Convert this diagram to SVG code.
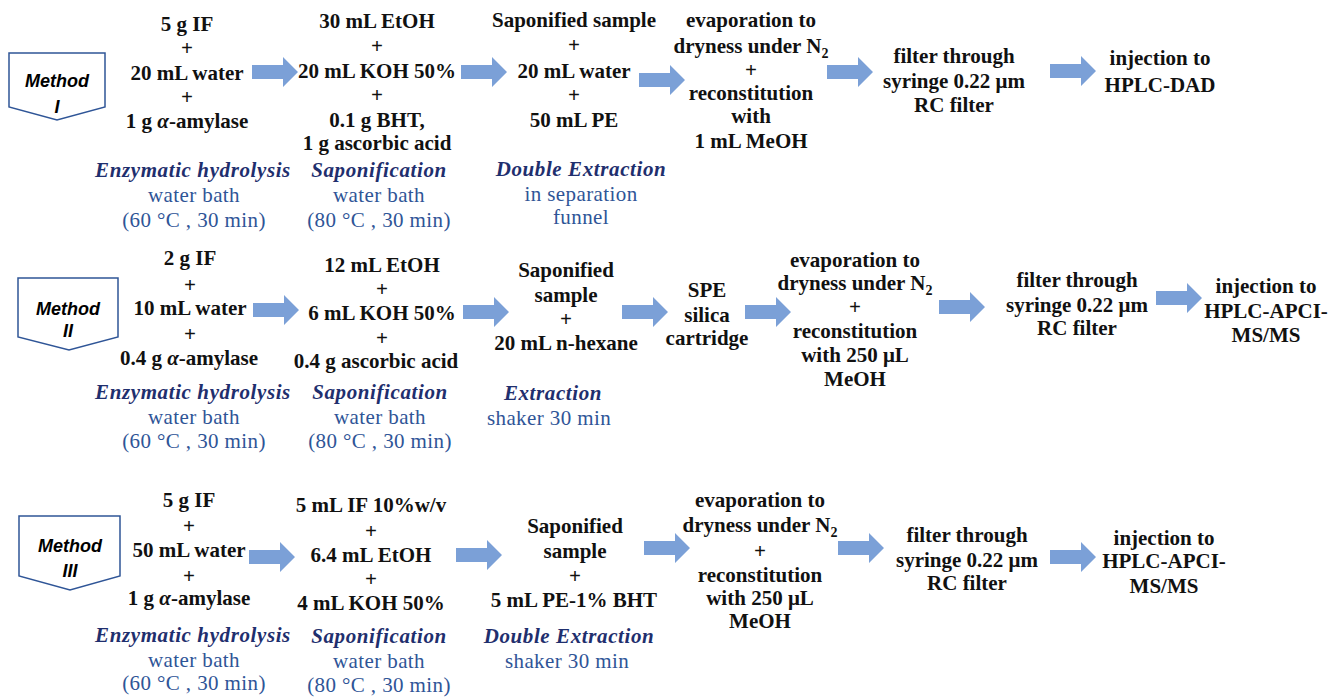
<svg xmlns="http://www.w3.org/2000/svg" xmlns:xlink="http://www.w3.org/1999/xlink" width="1341" height="698" viewBox="0 0 1341 698">
<style>
text{font-family:"Liberation Serif","DejaVu Serif",serif;text-anchor:middle;font-size:21px}
.b{font-weight:bold;fill:#111}
.h{font-style:italic;font-weight:bold;fill:#1F2F6E;letter-spacing:0.6px}
.n{fill:#2F5597;letter-spacing:0.4px}
.m{font-family:"Liberation Sans",Arial,sans-serif;font-style:italic;font-weight:bold;font-size:18px;fill:#000}
.box{fill:#fff;stroke:#2F5597;stroke-width:1.5}
.arr{fill:#7BA0D7}
.sub{font-size:14px}
</style>
<defs>
<path id="arr" class="arr" d="M0,-7 H31 V-15 L46,0 L31,15 V7 H0 Z"/>
</defs>
<rect width="1341" height="698" fill="#fff"/>

<g id="connectors">
<use xlink:href="#arr" x="252" y="72"/>
<use xlink:href="#arr" x="461" y="72"/>
<use xlink:href="#arr" x="639" y="80"/>
<use xlink:href="#arr" x="827" y="72"/>
<use xlink:href="#arr" x="1050" y="71"/>
<use xlink:href="#arr" x="253" y="310"/>
<use xlink:href="#arr" x="463" y="312"/>
<use xlink:href="#arr" x="622" y="312"/>
<use xlink:href="#arr" x="745" y="312"/>
<use xlink:href="#arr" x="939" y="307"/>
<use xlink:href="#arr" x="1156" y="298"/>
<use xlink:href="#arr" x="249" y="557"/>
<use xlink:href="#arr" x="456" y="555"/>
<use xlink:href="#arr" x="644" y="548"/>
<use xlink:href="#arr" x="838" y="548"/>
<use xlink:href="#arr" x="1050" y="557"/>
</g>

<!-- Method I -->
<g id="m1-label">
<polygon class="box" points="9,53 105,53 105,107 57,120 9,107"/>
<text class="m" x="57" y="87">Method</text>
<text class="m" x="57" y="113">I</text>
</g>
<g id="m1-hydrolysis">
<text class="b" x="187" y="31">5 g IF</text>
<text class="b" x="187" y="55">+</text>
<text class="b" x="187" y="80">20 mL water</text>
<text class="b" x="187" y="104">+</text>
<text class="b" x="187" y="128">1 g <tspan font-style="italic">α</tspan>-amylase</text>
<text class="h" x="193" y="177">Enzymatic hydrolysis</text>
<text class="n" x="194" y="202">water bath</text>
<text class="n" x="194" y="227">(60 °C , 30 min)</text>
</g>
<g id="m1-saponification">
<text class="b" x="377" y="28">30 mL EtOH</text>
<text class="b" x="377" y="53">+</text>
<text class="b" x="377" y="78">20 mL KOH 50%</text>
<text class="b" x="377" y="102">+</text>
<text class="b" x="377" y="127">0.1 g BHT,</text>
<text class="b" x="377" y="150">1 g ascorbic acid</text>
<text class="h" x="379" y="177">Saponification</text>
<text class="n" x="379" y="202">water bath</text>
<text class="n" x="379" y="227">(80 °C , 30 min)</text>
</g>
<g id="m1-extraction">
<text class="b" x="574" y="27">Saponified sample</text>
<text class="b" x="574" y="52">+</text>
<text class="b" x="574" y="78">20 mL water</text>
<text class="b" x="574" y="102">+</text>
<text class="b" x="574" y="127">50 mL PE</text>
<text class="h" x="581" y="176">Double Extraction</text>
<text class="n" x="581" y="201">in separation</text>
<text class="n" x="581" y="224">funnel</text>
</g>
<g id="m1-evaporation">
<text class="b" x="751" y="27">evaporation to</text>
<text class="b" x="751" y="53">dryness under N<tspan class="sub" dy="5">2</tspan></text>
<text class="b" x="751" y="77">+</text>
<text class="b" x="751" y="100">reconstitution</text>
<text class="b" x="751" y="123">with</text>
<text class="b" x="751" y="148">1 mL MeOH</text>
</g>
<g id="m1-filter">
<text class="b" x="954" y="63">filter through</text>
<text class="b" x="954" y="88">syringe 0.22 μm</text>
<text class="b" x="954" y="112">RC filter</text>
</g>
<g id="m1-injection">
<text class="b" x="1160" y="65">injection to</text>
<text class="b" x="1160" y="92">HPLC-DAD</text>
</g>

<!-- Method II -->
<g id="m2-label">
<polygon class="box" points="18,278 118,278 118,337 69,350 18,337"/>
<text class="m" x="68" y="315">Method</text>
<text class="m" x="68" y="337">II</text>
</g>
<g id="m2-hydrolysis">
<text class="b" x="190" y="265">2 g IF</text>
<text class="b" x="190" y="292">+</text>
<text class="b" x="190" y="315">10 mL water</text>
<text class="b" x="190" y="341">+</text>
<text class="b" x="189" y="365">0.4 g <tspan font-style="italic">α</tspan>-amylase</text>
<text class="h" x="193" y="399">Enzymatic hydrolysis</text>
<text class="n" x="194" y="424">water bath</text>
<text class="n" x="194" y="448">(60 °C , 30 min)</text>
</g>
<g id="m2-saponification">
<text class="b" x="382" y="272">12 mL EtOH</text>
<text class="b" x="382" y="296">+</text>
<text class="b" x="382" y="320">6 mL KOH 50%</text>
<text class="b" x="382" y="345">+</text>
<text class="b" x="376" y="368">0.4 g ascorbic acid</text>
<text class="h" x="380" y="399">Saponification</text>
<text class="n" x="380" y="424">water bath</text>
<text class="n" x="380" y="448">(80 °C , 30 min)</text>
</g>
<g id="m2-extraction">
<text class="b" x="566" y="277">Saponified</text>
<text class="b" x="566" y="302">sample</text>
<text class="b" x="566" y="326">+</text>
<text class="b" x="566" y="350">20 mL n-hexane</text>
<text class="h" x="553" y="400">Extraction</text>
<text class="n" x="549" y="425">shaker 30 min</text>
</g>
<g id="m2-spe">
<text class="b" x="707" y="297">SPE</text>
<text class="b" x="707" y="322">silica</text>
<text class="b" x="707" y="345">cartridge</text>
</g>
<g id="m2-evaporation">
<text class="b" x="855" y="267">evaporation to</text>
<text class="b" x="855" y="290">dryness under N<tspan class="sub" dy="5">2</tspan></text>
<text class="b" x="855" y="314">+</text>
<text class="b" x="855" y="338">reconstitution</text>
<text class="b" x="855" y="362">with 250 μL</text>
<text class="b" x="855" y="386">MeOH</text>
</g>
<g id="m2-filter">
<text class="b" x="1077" y="287">filter through</text>
<text class="b" x="1077" y="312">syringe 0.22 μm</text>
<text class="b" x="1077" y="335">RC filter</text>
</g>
<g id="m2-injection">
<text class="b" x="1266" y="293">injection to</text>
<text class="b" x="1266" y="318">HPLC-APCI-</text>
<text class="b" x="1266" y="342">MS/MS</text>
</g>

<!-- Method III -->
<g id="m3-label">
<polygon class="box" points="19,516 120,516 120,576 70,590 19,576"/>
<text class="m" x="70" y="552">Method</text>
<text class="m" x="70" y="577">III</text>
</g>
<g id="m3-hydrolysis">
<text class="b" x="189" y="507">5 g IF</text>
<text class="b" x="189" y="533">+</text>
<text class="b" x="189" y="557">50 mL water</text>
<text class="b" x="189" y="583">+</text>
<text class="b" x="189" y="605">1 g <tspan font-style="italic">α</tspan>-amylase</text>
<text class="h" x="193" y="642">Enzymatic hydrolysis</text>
<text class="n" x="194" y="667">water bath</text>
<text class="n" x="194" y="690">(60 °C , 30 min)</text>
</g>
<g id="m3-saponification">
<text class="b" x="371" y="512">5 mL IF 10%w/v</text>
<text class="b" x="371" y="538">+</text>
<text class="b" x="371" y="562">6.4 mL EtOH</text>
<text class="b" x="371" y="586">+</text>
<text class="b" x="371" y="610">4 mL KOH 50%</text>
<text class="h" x="379" y="643">Saponification</text>
<text class="n" x="379" y="668">water bath</text>
<text class="n" x="379" y="692">(80 °C , 30 min)</text>
</g>
<g id="m3-extraction">
<text class="b" x="575" y="533">Saponified</text>
<text class="b" x="575" y="558">sample</text>
<text class="b" x="575" y="583">+</text>
<text class="b" x="574" y="607">5 mL PE-1% BHT</text>
<text class="h" x="569" y="643">Double Extraction</text>
<text class="n" x="567" y="668">shaker 30 min</text>
</g>
<g id="m3-evaporation">
<text class="b" x="760" y="507">evaporation to</text>
<text class="b" x="760" y="532">dryness under N<tspan class="sub" dy="5">2</tspan></text>
<text class="b" x="760" y="558">+</text>
<text class="b" x="760" y="582">reconstitution</text>
<text class="b" x="760" y="605">with 250 μL</text>
<text class="b" x="760" y="628">MeOH</text>
</g>
<g id="m3-filter">
<text class="b" x="967" y="542">filter through</text>
<text class="b" x="967" y="567">syringe 0.22 μm</text>
<text class="b" x="967" y="590">RC filter</text>
</g>
<g id="m3-injection">
<text class="b" x="1164" y="545">injection to</text>
<text class="b" x="1164" y="568">HPLC-APCI-</text>
<text class="b" x="1164" y="593">MS/MS</text>
</g>
</svg>
